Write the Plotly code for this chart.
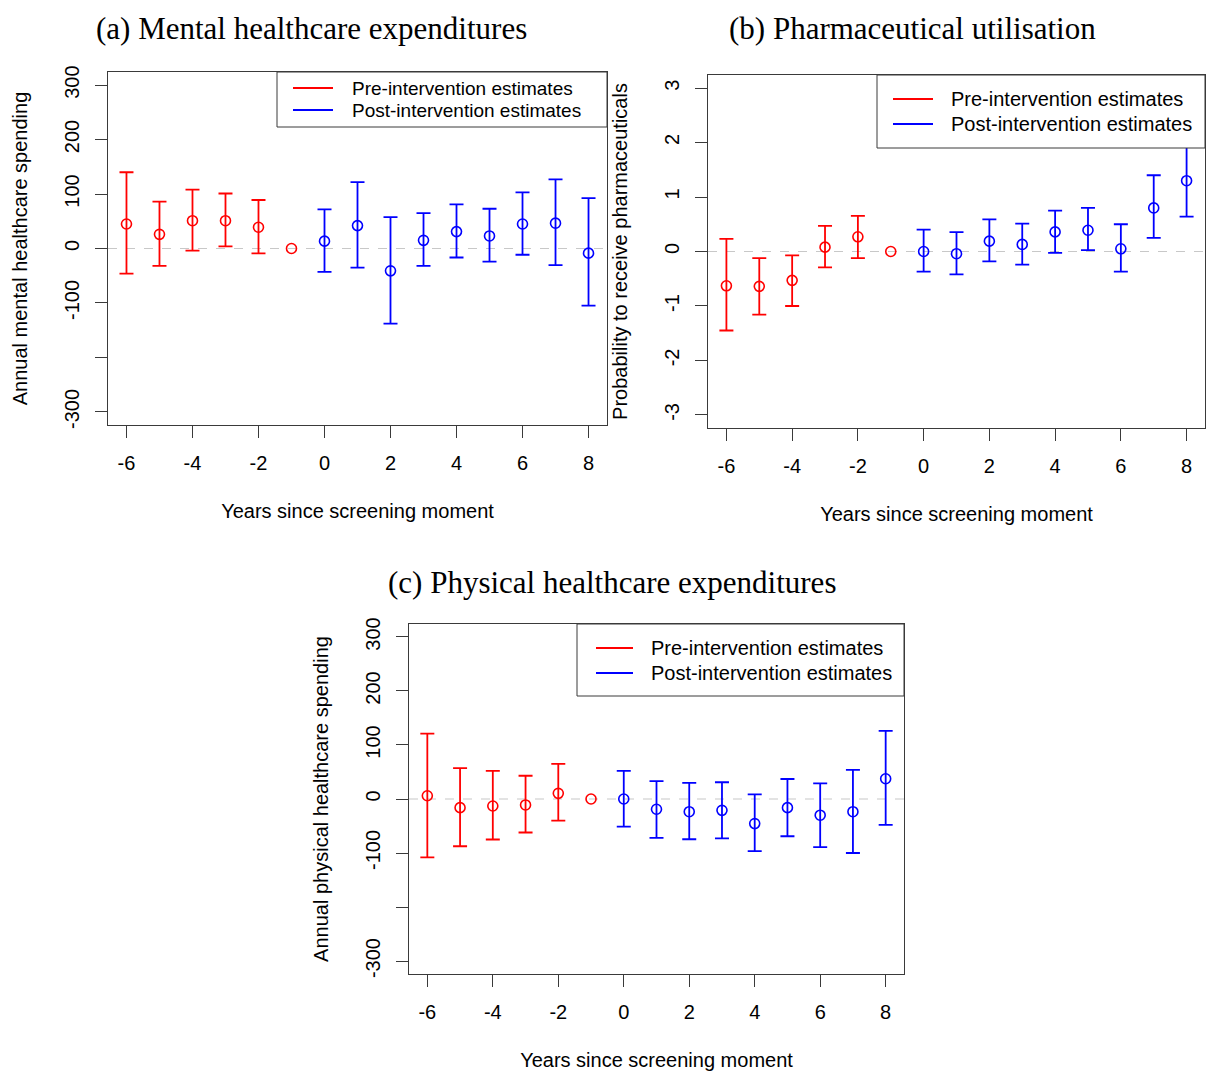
import plotly.graph_objects as go

# Event-study estimates: years relative to the screening moment
years_pre = [-6, -5, -4, -3, -2]
years_post = [0, 1, 2, 3, 4, 5, 6, 7, 8]
ref_year = [-1]
ref_value = [0]

# (a) Mental healthcare expenditures
mental_pre_est = [45, 26, 51, 51, 39]
mental_pre_lo = [-46, -32, -4, 4, -9]
mental_pre_hi = [140, 86, 108, 101, 89]
mental_post_est = [13.5, 42, -41, 15, 31, 23, 45, 46.5, -8.5]
mental_post_lo = [-43, -35, -138, -32, -16.5, -24, -11.5, -30.5, -105]
mental_post_hi = [72, 122, 57.5, 65, 81, 73, 103, 127, 92.5]

# (b) Pharmaceutical utilisation
pharma_pre_est = [-0.63, -0.64, -0.53, 0.08, 0.27]
pharma_pre_lo = [-1.45, -1.16, -1.0, -0.29, -0.12]
pharma_pre_hi = [0.23, -0.12, -0.07, 0.47, 0.655]
pharma_post_est = [0.0, -0.04, 0.19, 0.13, 0.36, 0.39, 0.05, 0.80, 1.30]
pharma_post_lo = [-0.37, -0.42, -0.18, -0.24, -0.025, 0.025, -0.37, 0.25, 0.64]
pharma_post_hi = [0.40, 0.355, 0.59, 0.51, 0.75, 0.80, 0.50, 1.40, 1.96]

# (c) Physical healthcare expenditures
physical_pre_est = [6, -16, -13, -11, 10.5]
physical_pre_lo = [-108, -87.5, -75, -62, -40]
physical_pre_hi = [121, 57, 52, 43, 65]
physical_post_est = [0, -19, -23.5, -21, -45.5, -16, -30, -23.5, 37.5]
physical_post_lo = [-51, -72, -74.5, -73, -96.5, -69, -89, -100, -48]
physical_post_hi = [52, 33, 30, 31, 8.5, 37, 29, 54, 126]

money_ticks = [-300, -200, -100, 0, 100, 200, 300]
money_labels = ["-300", "", "-100", "0", "100", "200", "300"]
prob_ticks = [-3, -2, -1, 0, 1, 2, 3]
prob_labels = ["-3", "-2", "-1", "0", "1", "2", "3"]
x_ticks = [-6, -4, -2, 0, 2, 4, 6, 8]
x_labels = ["-6", "-4", "-2", "0", "2", "4", "6", "8"]

panel_titles = ["(a) Mental healthcare expenditures",
                "(b) Pharmaceutical utilisation",
                "(c) Physical healthcare expenditures"]
y_titles = ["Annual mental healthcare spending",
            "Probability to receive pharmaceuticals",
            "Annual physical healthcare spending"]
x_title = "Years since screening moment"
legend_labels = ["Pre-intervention estimates", "Post-intervention estimates"]

RED = "#ff0000"
BLUE = "#0000ff"
SANS = "Liberation Sans, Arial, sans-serif"
SERIF = "Liberation Serif, Times New Roman, serif"
AXIS_COL = "#3a3a3a"
FS = 20

W, H = 1208, 1072

panels = [
    dict(ax="", box=(108, 607, 72, 425), yr=324, ticks=money_ticks, labels=money_labels,
         pre=(mental_pre_est, mental_pre_lo, mental_pre_hi),
         post=(mental_post_est, mental_post_lo, mental_post_hi),
         title_xy=(311, 28),
         leg=dict(left=277, bottom=127, line=(293, 333), text=350, rows=(88, 110), fs=19)),
    dict(ax="2", box=(708, 1205, 75, 428), yr=3.24, ticks=prob_ticks, labels=prob_labels,
         pre=(pharma_pre_est, pharma_pre_lo, pharma_pre_hi),
         post=(pharma_post_est, pharma_post_lo, pharma_post_hi),
         title_xy=(912, 28),
         leg=dict(left=877, bottom=148, line=(893, 933), text=949, rows=(99, 124), fs=FS)),
    dict(ax="3", box=(409, 904, 624, 974), yr=324, ticks=money_ticks, labels=money_labels,
         pre=(physical_pre_est, physical_pre_lo, physical_pre_hi),
         post=(physical_post_est, physical_post_lo, physical_post_hi),
         title_xy=(612, 582),
         leg=dict(left=577, bottom=696, line=(596, 633), text=649, rows=(648, 673), fs=FS)),
]

fig = go.Figure()
shapes = []
annotations = []
layout_axes = {}


def err_trace(xs, est, lo, hi, color, xa, ya):
    return go.Scatter(
        x=xs, y=est, mode="markers", xaxis=xa, yaxis=ya, showlegend=False,
        marker=dict(symbol="circle-open", size=10, color=color, line=dict(width=1.6, color=color)),
        error_y=dict(type="data", symmetric=False,
                     array=[h - e for h, e in zip(hi, est)],
                     arrayminus=[e - l for e, l in zip(est, lo)],
                     color=color, thickness=1.8, width=7),
        cliponaxis=False,
    )


for i, p in enumerate(panels):
    sfx = p["ax"]
    xa, ya = "x" + sfx, "y" + sfx
    x0, x1, y0, y1 = p["box"]
    xdom = [x0 / W, x1 / W]
    ydom = [1 - y1 / H, 1 - y0 / H]

    fig.add_trace(err_trace(years_pre, *p["pre"], RED, xa, ya))
    fig.add_trace(err_trace(years_post, *p["post"], BLUE, xa, ya))
    fig.add_trace(go.Scatter(x=ref_year, y=ref_value, mode="markers", xaxis=xa, yaxis=ya,
                             showlegend=False,
                             marker=dict(symbol="circle-open", size=10, color=RED,
                                         line=dict(width=1.6, color=RED))))

    layout_axes["xaxis" + sfx] = dict(
        domain=xdom, anchor=ya, range=[-6.56, 8.56], tickvals=x_ticks, ticktext=x_labels,
        showgrid=False, zeroline=False, showline=True, mirror=True,
        linecolor=AXIS_COL, linewidth=1, ticks="outside", ticklen=12, tickcolor=AXIS_COL,
        ticklabelstandoff=8,
        tickfont=dict(family=SANS, size=FS, color="#000"),
        title=dict(text=x_title, font=dict(family=SANS, size=FS, color="#000"), standoff=30),
        automargin=False, fixedrange=True,
    )
    layout_axes["yaxis" + sfx] = dict(
        domain=ydom, anchor=xa, range=[-p["yr"], p["yr"]],
        tickvals=p["ticks"], ticktext=p["labels"], tickangle=-90,
        showgrid=False, zeroline=False, showline=True, mirror=True,
        linecolor=AXIS_COL, linewidth=1, ticks="outside", ticklen=12, tickcolor=AXIS_COL,
        ticklabelstandoff=8,
        tickfont=dict(family=SANS, size=FS, color="#000"),
        title=dict(text=y_titles[i], font=dict(family=SANS, size=FS, color="#000"), standoff=28),
        automargin=False, fixedrange=True,
    )

    # dashed reference line at zero
    shapes.append(dict(type="line", xref=xa + " domain", yref=ya, x0=0, x1=1, y0=0, y1=0,
                       line=dict(color="#c8c8c8", width=1.2, dash="dash"), layer="below"))

    # panel title
    tx, ty = p["title_xy"]
    annotations.append(dict(text=panel_titles[i], xref="paper", yref="paper",
                            x=tx / W, y=1 - ty / H, xanchor="center", yanchor="middle",
                            showarrow=False, font=dict(family=SERIF, size=31, color="#000")))

    # legend box in the top-right corner of the plotting region
    lg = p["leg"]
    shapes.append(dict(type="rect", xref="paper", yref="paper",
                       x0=lg["left"] / W, x1=x1 / W, y0=1 - lg["bottom"] / H, y1=1 - y0 / H,
                       fillcolor="white", line=dict(color=AXIS_COL, width=1), layer="above"))
    for label, color, ry in zip(legend_labels, [RED, BLUE], lg["rows"]):
        shapes.append(dict(type="line", xref="paper", yref="paper",
                           x0=lg["line"][0] / W, x1=lg["line"][1] / W,
                           y0=1 - ry / H, y1=1 - ry / H,
                           line=dict(color=color, width=1.8), layer="above"))
        annotations.append(dict(text=label, xref="paper", yref="paper",
                                x=lg["text"] / W, y=1 - ry / H, xanchor="left", yanchor="middle",
                                showarrow=False, font=dict(family=SANS, size=lg["fs"], color="#000")))

fig.update_layout(
    width=W, height=H,
    margin=dict(l=0, r=0, t=0, b=0),
    paper_bgcolor="white", plot_bgcolor="white",
    showlegend=False,
    shapes=shapes, annotations=annotations,
    **layout_axes,
)

fig.write_html("out.html")
